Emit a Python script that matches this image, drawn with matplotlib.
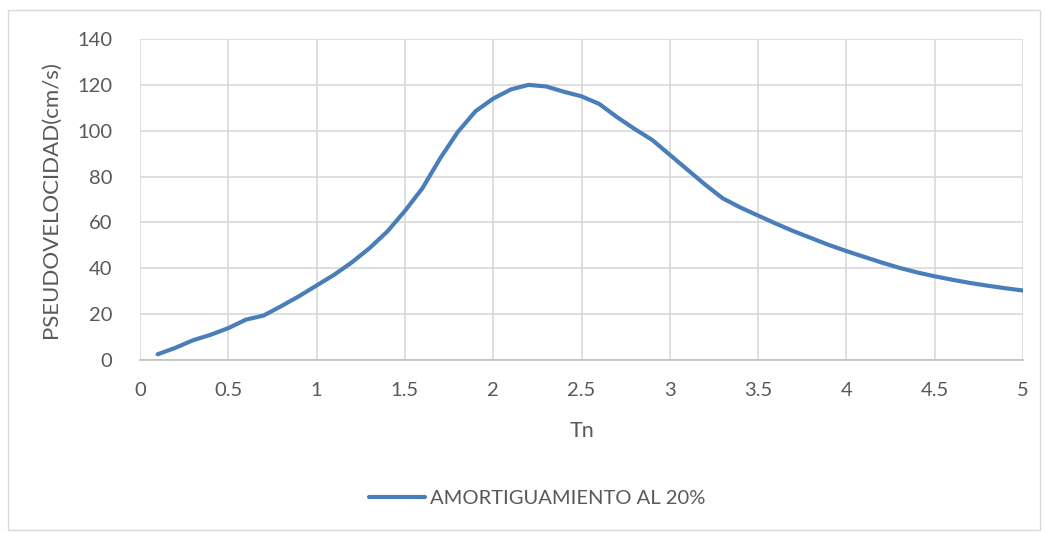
#!/usr/bin/env python3

import matplotlib as mpl
mpl.use('Agg')
import matplotlib.pyplot as plt
from matplotlib.patches import Rectangle

## Data
tn = [0.1, 0.2, 0.3, 0.4, 0.5, 0.6, 0.7, 0.8, 0.9, 1.0,
      1.1, 1.2, 1.3, 1.4, 1.5, 1.6, 1.7, 1.8, 1.9, 2.0,
      2.1, 2.2, 2.3, 2.4, 2.5, 2.6, 2.7, 2.8, 2.9, 3.0,
      3.1, 3.2, 3.3, 3.4, 3.5, 3.6, 3.7, 3.8, 3.9, 4.0,
      4.1, 4.2, 4.3, 4.4, 4.5, 4.6, 4.7, 4.8, 4.9, 5.0]
psv = [2.5, 5.3, 8.6, 11.0, 13.9, 17.6, 19.4, 23.5, 27.8, 32.5,
       37.2, 42.6, 48.8, 56.0, 65.0, 75.0, 88.0, 99.5, 108.5, 114.0,
       118.0, 120.0, 119.3, 117.0, 115.0, 111.7, 106.0, 100.8, 96.0, 89.5,
       83.0, 76.5, 70.5, 66.5, 63.0, 59.5, 56.2, 53.2, 50.2, 47.5,
       45.0, 42.5, 40.2, 38.2, 36.5, 35.0, 33.6, 32.4, 31.3, 30.3]
series_label = 'AMORTIGUAMIENTO AL 20%'
xticks = [0, 0.5, 1, 1.5, 2, 2.5, 3, 3.5, 4, 4.5, 5]
xtick_labels = ['0', '0.5', '1', '1.5', '2', '2.5', '3', '3.5', '4', '4.5', '5']
yticks = [0, 20, 40, 60, 80, 100, 120, 140]

plt.rcParams['font.family'] = ['Lato', 'DejaVu Sans']
txt = '#595959'

fig = plt.figure(figsize=(10.45, 5.33), dpi=100)
fig.patches.append(Rectangle((8 / 1045, 0.005), 1032 / 1045, 1 - 10 / 533 - 0.005,
                             transform=fig.transFigure, fill=False,
                             edgecolor='#d9d9d9', lw=1))
ax = fig.add_axes([140 / 1045, 1 - 360 / 533, 883 / 1045, 321 / 533])

ax.plot(tn, psv, color='#4a7ebb', lw=3, label=series_label,
        solid_capstyle='round', solid_joinstyle='round')

ax.set_xlim(0, 5)
ax.set_ylim(0, 140)
ax.set_xticks(xticks)
ax.set_xticklabels(xtick_labels)
ax.set_yticks(yticks)
ax.grid(True, color='#d9d9d9', lw=1.2)
ax.set_axisbelow(True)
for s in ['top', 'right', 'left']:
  ax.spines[s].set_visible(False)
ax.spines['bottom'].set_color('#bfbfbf')
ax.spines['bottom'].set_linewidth(1.2)
ax.tick_params(length=0, labelsize=14.5, colors=txt)
ax.tick_params(axis='x', pad=16)
ax.tick_params(axis='y', pad=20)

ax.set_xlabel('Tn', fontsize=15.5, color=txt, labelpad=16)
ax.set_ylabel('PSEUDOVELOCIDAD(cm/s)', fontsize=16, color=txt, labelpad=12)

fig.legend(loc='center', bbox_to_anchor=(537 / 1045, 1 - 498 / 533), frameon=False,
           fontsize=14.5, labelcolor=txt, handlelength=2.8, handletextpad=0.2)

fig.savefig('out.png', dpi=100)
